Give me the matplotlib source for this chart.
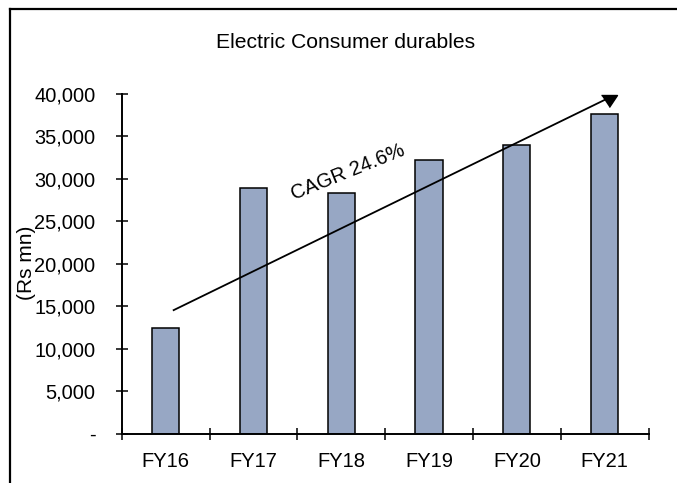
import matplotlib
matplotlib.use("Agg")
import matplotlib.pyplot as plt
from matplotlib.lines import Line2D
from matplotlib.ticker import FuncFormatter

plt.rcParams["font.family"] = ["Liberation Sans", "DejaVu Sans"]

# Electric consumer durables market size (Rs mn)
years = ["FY16", "FY17", "FY18", "FY19", "FY20", "FY21"]
values = [12500, 28900, 28350, 32200, 33950, 37650]
yticks = [0, 5000, 10000, 15000, 20000, 25000, 30000, 35000, 40000]

title = "Electric Consumer durables"
ylabel = "(Rs mn)"
cagr_label = "CAGR 24.6%"

BAR_COLOR = "#97A7C4"

fig = plt.figure(figsize=(6.77, 4.83), dpi=100)
ax = fig.add_axes([0.18, 0.102, 0.778, 0.7035])

x = list(range(len(years)))
ax.bar(x, values, width=0.31, color=BAR_COLOR, edgecolor="black", linewidth=1.1, zorder=2)

ax.set_xlim(-0.5, len(years) - 0.5)
ax.set_ylim(0, 40000)

# category boundaries carry the ticks, labels sit at the bar centres
ax.set_xticks([i - 0.5 for i in range(len(years) + 1)])
ax.set_xticklabels([])
ax.set_xticks(x, minor=True)
ax.set_xticklabels(years, minor=True)
ax.tick_params(axis="x", which="major", direction="inout", length=8, width=1.1)
ax.tick_params(axis="x", which="minor", length=0, pad=13.5, labelsize=14.5)

ax.set_yticks(yticks)
ax.yaxis.set_major_formatter(FuncFormatter(lambda v, _: "-" if v == 0 else f"{v:,.0f}"))
ax.tick_params(axis="y", direction="inout", length=8, width=1.1, pad=15, labelsize=14.4)

for side in ("top", "right"):
    ax.spines[side].set_visible(False)
for side in ("left", "bottom"):
    ax.spines[side].set_linewidth(1.4)

# growth trend arrow with a triangular head
arrow_start = (0.09, 14550)
arrow_end = (5.0, 39300)
ax.plot([arrow_start[0], arrow_end[0]], [arrow_start[1], arrow_end[1]],
        color="black", linewidth=1.3, zorder=3, clip_on=False)
ax.plot([5.05], [39150], marker=[(-1, 0.75), (1, 0.75), (0, -0.75)],
        markersize=11.5, color="black", zorder=4, clip_on=False)

ax.text(2.08, 30800, cagr_label, rotation=22, rotation_mode="anchor",
        ha="center", va="center", fontsize=14.5, zorder=5)

fig.text(345.5 / 677, 1 - 43 / 483, title, ha="center", va="center", fontsize=15.2)
fig.text(27 / 677, 1 - 263 / 483, ylabel, rotation=90, ha="center", va="center", fontsize=15)

# outer frame of the exhibit
fig.add_artist(Line2D([9.5 / 677, 9.5 / 677], [0, 1 - 8.5 / 483],
                      transform=fig.transFigure, color="black", linewidth=1.6))
fig.add_artist(Line2D([9.5 / 677, 1], [1 - 8.5 / 483, 1 - 8.5 / 483],
                      transform=fig.transFigure, color="black", linewidth=1.6))

fig.savefig("out.png", dpi=100)
